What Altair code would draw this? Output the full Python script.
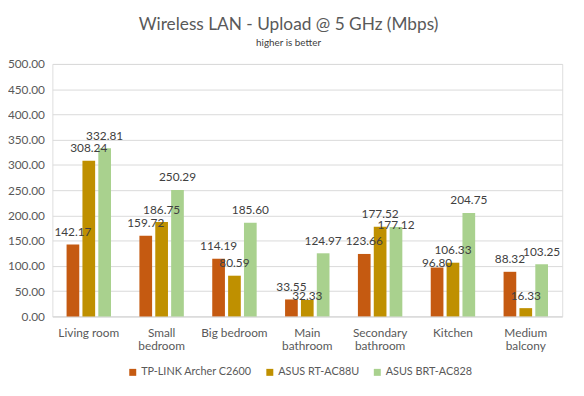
import altair as alt
import pandas as pd

categories = ["Living room", "Small bedroom", "Big bedroom", "Main bathroom",
              "Secondary bathroom", "Kitchen", "Medium balcony"]
series = ["TP-LINK Archer C2600", "ASUS RT-AC88U", "ASUS BRT-AC828"]
tplink = [142.17, 159.72, 114.19, 33.55, 123.66, 96.80, 88.32]
rtac88u = [308.24, 186.75, 80.59, 32.33, 177.52, 106.33, 16.33]
brtac828 = [332.81, 250.29, 185.60, 124.97, 177.12, 204.75, 103.25]
colors = ["#C55A11", "#BF9000", "#A9D18E"]

# labels nudged down by the original chart to avoid overlaps (label style)
label_nudge = {("ASUS RT-AC88U", "Main bathroom"): 9,
               ("ASUS BRT-AC828", "Secondary bathroom"): 11,
               ("TP-LINK Archer C2600", "Kitchen"): 8}

rows = []
for s, vals in zip(series, [tplink, rtac88u, brtac828]):
    for c, v in zip(categories, vals):
        rows.append({"Room": c, "Router": s, "Value": v,
                     "Nudge": label_nudge.get((s, c), 0)})
df = pd.DataFrame(rows)

FONT = "Lato"
label_expr = ("datum.label == 'Small bedroom' ? ['Small','bedroom'] : "
              "datum.label == 'Main bathroom' ? ['Main','bathroom'] : "
              "datum.label == 'Secondary bathroom' ? ['Secondary','bathroom'] : "
              "datum.label == 'Medium balcony' ? ['Medium','balcony'] : datum.label")

x = alt.X("Room:N", sort=categories, title=None,
          scale=alt.Scale(paddingInner=0.39, paddingOuter=0.195),
          axis=alt.Axis(labelAngle=0, labelExpr=label_expr, labelFont=FONT,
                        labelFontSize=12, labelColor="#595959", ticks=False,
                        domainColor="#D9D9D9", labelPadding=11, labelLineHeight=14))
xo = alt.XOffset("Router:N", sort=series,
                 scale=alt.Scale(paddingInner=0.2, paddingOuter=0))
y = alt.Y("Value:Q", title=None,
          scale=alt.Scale(domain=[0, 500]),
          axis=alt.Axis(values=list(range(0, 501, 50)), format=".2f",
                        labelFont=FONT, labelFontSize=12, labelColor="#595959",
                        gridColor="#D9D9D9", domain=False, ticks=False,
                        labelPadding=8))
color = alt.Color("Router:N", sort=series,
                  scale=alt.Scale(domain=series, range=colors),
                  legend=alt.Legend(title=None, orient="none", direction="horizontal",
                                    legendX=76, legendY=307, symbolType="square",
                                    symbolSize=50, labelFont=FONT, labelFontSize=11,
                                    labelColor="#595959", columnPadding=12,
                                    labelOffset=3, symbolStrokeWidth=0))

bars = alt.Chart(df).mark_bar().encode(x=x, xOffset=xo, y=y, color=color)

layers = [bars]
for n in sorted(set(df["Nudge"])):
    layers.append(
        alt.Chart(df).transform_filter(alt.datum.Nudge == int(n))
        .mark_text(baseline="middle", dy=-12.7 + float(n), font=FONT, fontSize=12,
                   color="#404040")
        .encode(x=x, xOffset=xo, y=y, text=alt.Text("Value:Q", format=".2f"))
    )

chart = alt.layer(*layers).properties(
    width=517, height=256,
    autosize=alt.AutoSizeParams(type="none"),
    padding={"left": 45, "top": 54, "right": 14, "bottom": 78},
    title=alt.TitleParams("Wireless LAN - Upload @ 5 GHz (Mbps)",
                          subtitle="higher is better", anchor="middle",
                          font=FONT, fontSize=17.5, fontWeight="normal",
                          color="#595959", subtitleFont=FONT, subtitleFontSize=10,
                          subtitleColor="#404040", dx=-19, offset=10,
                          subtitlePadding=5)
).configure_view(stroke=None).configure(background="white")

chart.save("out.html", embed_options={"renderer": "svg", "actions": False})
